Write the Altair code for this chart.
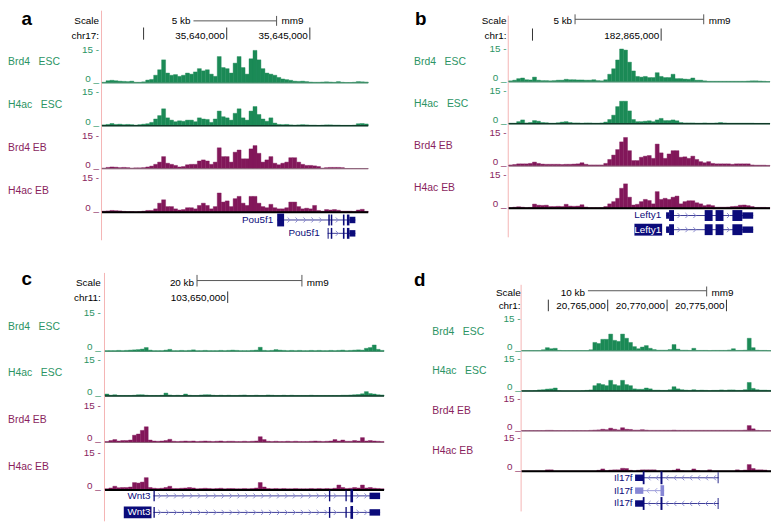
import altair as alt
import pandas as pd

# ---------------------------------------------------------------- data
track_labels = ["Brd4\u00a0\u00a0\u00a0ESC", "H4ac\u00a0\u00a0\u00a0ESC", "Brd4 EB", "H4ac EB"]

# panel a : chr17, Pou5f1 locus (read density, 0-15)
a_brd4_esc = [0.3, 1.0, 1.2, 1.0, 0.8, 0.7, 0.6, 0.8, 0.3, 0.3,
              0.5, 1.3, 1.6, 3.5, 6.0, 10.5, 4.5, 3.5, 3.8, 3.0,
              3.5, 4.5, 4.0, 5.0, 6.5, 5.5, 6.0, 4.0, 3.0, 12.0,
              7.0, 6.5, 4.5, 9.0, 12.0, 7.0, 4.0, 11.0, 14.8, 10.5,
              6.5, 4.5, 4.0, 3.5, 2.5, 1.8, 1.5, 1.2, 0.8, 0.7,
              0.8, 0.6, 0.4, 0.3, 0.3, 0.4, 0.5, 0.4, 0.3, 0.6,
              0.3, 0.2, 0.2, 0.3, 0.6, 0.5, 0.4]
a_h4ac_esc = [0.4, 0.6, 1.0, 0.6, 0.7, 0.5, 0.6, 0.5, 0.3, 0.5,
              0.7, 0.9, 1.5, 3.0, 4.5, 7.5, 3.5, 2.5, 1.8, 2.2,
              2.0, 2.5, 2.5, 1.8, 3.5, 3.0, 2.8, 1.5, 3.0, 6.5,
              4.0, 3.5, 2.5, 5.5, 7.5, 3.5, 2.5, 6.5, 8.5, 5.0,
              3.0, 2.0, 3.5, 1.2, 0.6, 0.5, 0.6, 0.4, 0.3, 0.4,
              0.5, 0.4, 0.3, 0.3, 0.2, 0.3, 0.4, 0.4, 0.3, 0.3,
              0.2, 0.2, 0.2, 0.3, 0.9, 1.0, 0.8]
a_brd4_eb = [0.3, 0.6, 0.8, 0.7, 0.5, 0.6, 0.5, 0.3, 0.4, 0.4,
             0.5, 0.8, 1.2, 2.0, 3.0, 5.5, 2.5, 2.0, 1.5, 0.8,
             1.0, 1.8, 2.0, 2.0, 3.5, 4.0, 3.5, 2.0, 3.0, 9.5,
             5.5, 5.5, 3.0, 7.5, 8.5, 4.5, 4.5, 9.0, 10.5, 7.0,
             3.0, 4.0, 5.5, 2.5, 1.8, 2.5, 3.0, 5.0, 5.0, 3.0,
             2.0, 1.5, 1.5, 1.3, 1.0, 0.3, 0.5, 0.6, 0.6, 0.6,
             0.5, 0.1, 0.1, 0.1, 0.1, 0.1, 0.1]
a_h4ac_eb = [0.5, 0.6, 0.8, 0.7, 0.6, 0.4, 0.3, 0.3, 0.2, 0.3,
             0.5, 0.8, 0.8, 1.5, 4.0, 5.5, 2.5, 2.5, 1.5, 1.0,
             1.2, 2.0, 2.0, 1.5, 3.0, 4.0, 3.0, 1.5, 2.5, 8.5,
             4.5, 5.0, 2.5, 6.0, 7.0, 4.0, 3.0, 7.0, 7.0, 4.0,
             2.5, 2.0, 3.5, 2.0, 1.5, 1.5, 2.0, 4.5, 4.5, 2.5,
             1.5, 1.8, 1.5, 3.0, 0.8, 0.5, 1.2, 1.0, 1.2, 0.9,
             0.5, 0.5, 0.5, 0.4, 1.0, 1.3, 0.4]

# panel b : chr1, Lefty1 locus
b_brd4_esc = [0.5, 0.8, 1.5, 1.8, 1.0, 0.9, 2.2, 0.8, 0.6, 0.6,
              0.5, 0.6, 0.8, 0.8, 1.2, 1.0, 1.0, 0.9, 0.9, 0.8,
              0.8, 1.0, 0.6, 0.5, 1.0, 3.5, 6.0, 10.0, 15.0, 14.5,
              9.0, 5.0, 2.5, 2.2, 2.5, 2.0, 2.0, 4.2, 2.5, 2.0,
              2.0, 3.5, 1.5, 1.5, 1.3, 1.2, 1.8, 0.8, 0.8, 0.5,
              0.3, 0.3, 0.3, 0.3, 0.3, 0.3, 0.3, 0.3, 0.3, 0.3,
              0.4, 0.5, 0.5, 0.4, 0.3, 0.2]
b_h4ac_esc = [0.3, 0.3, 1.0, 1.8, 0.4, 0.6, 1.5, 1.2, 0.6, 0.5,
              0.3, 0.3, 0.5, 0.8, 1.0, 0.6, 0.4, 0.4, 0.3, 0.4,
              0.4, 0.3, 0.3, 0.4, 0.8, 2.0, 4.0, 8.0, 10.5, 10.5,
              6.0, 2.0, 1.0, 1.0, 1.2, 1.4, 1.0, 1.8, 2.5, 1.5,
              1.5, 1.8, 1.4, 0.6, 0.4, 0.4, 0.4, 0.3, 0.3, 0.4,
              0.3, 0.3, 0.4, 0.6, 0.4, 0.3, 0.3, 0.3, 0.3, 0.3,
              0.3, 0.3, 0.2, 0.2, 0.2, 0.2]
b_brd4_eb = [0.5, 0.7, 1.0, 1.0, 1.0, 1.2, 1.8, 1.2, 0.9, 0.8,
             0.8, 0.8, 0.8, 0.7, 0.8, 0.8, 0.9, 1.0, 1.5, 0.8,
             0.5, 0.5, 0.5, 0.5, 1.2, 3.0, 5.0, 7.5, 11.0, 13.0,
             7.0, 2.5, 2.5, 4.0, 4.5, 4.8, 3.5, 10.0, 6.0, 3.5,
             5.5, 7.0, 7.0, 4.0, 4.2, 3.5, 4.5, 3.0, 2.0, 1.5,
             2.0, 1.2, 1.0, 1.0, 1.0, 1.0, 0.8, 1.0, 1.0, 1.0,
             1.0, 0.5, 0.4, 0.4, 0.4, 0.3]
b_h4ac_eb = [0.3, 0.5, 0.7, 0.5, 0.3, 0.4, 1.9, 1.4, 1.3, 1.4,
             0.8, 0.8, 0.9, 0.8, 1.8, 1.0, 0.9, 1.0, 1.6, 0.6,
             0.3, 0.3, 0.3, 0.3, 0.8, 2.0, 3.0, 4.5, 9.0, 11.0,
             5.0, 1.5, 1.8, 3.0, 4.0, 3.5, 2.0, 7.5, 4.0, 4.5,
             4.0, 5.0, 5.5, 2.0, 3.0, 3.4, 3.4, 2.5, 2.0, 1.2,
             1.6, 1.2, 0.5, 0.5, 0.5, 0.6, 0.8, 0.9, 1.4, 1.5,
             1.2, 0.8, 0.4, 0.4, 0.4, 0.3]

# panel c : chr11, Wnt3 locus
c_brd4_esc = [0.3, 0.3, 0.3, 0.4, 0.3, 0.4, 0.5, 0.6, 0.7, 0.9,
              1.5, 0.5, 0.3, 0.3, 0.3, 0.5, 0.8, 0.3, 0.3, 0.4,
              0.3, 0.4, 0.6, 0.3, 0.3, 0.4, 0.3, 0.3, 0.3, 0.4,
              0.3, 0.4, 0.5, 0.4, 0.3, 0.3, 0.3, 0.4, 0.5, 1.6,
              0.4, 0.3, 0.4, 0.7, 0.5, 0.4, 0.3, 0.4, 0.3, 0.4,
              0.3, 0.3, 0.4, 0.3, 0.4, 0.3, 0.3, 0.4, 0.3, 0.4,
              0.5, 0.3, 0.4, 0.5, 0.6, 0.5, 1.2, 1.5, 2.5, 0.8,
              0.4]
c_h4ac_esc = [0.8, 0.3, 0.5, 0.2, 0.2, 0.2, 0.2, 0.3, 0.5, 0.5,
              0.3, 0.2, 0.2, 0.2, 0.3, 1.2, 0.4, 0.2, 0.3, 0.2,
              0.8, 0.3, 0.2, 0.2, 0.4, 0.5, 0.5, 0.3, 0.2, 0.3,
              0.2, 0.3, 0.2, 0.2, 0.3, 0.4, 0.2, 0.2, 0.3, 0.2,
              0.2, 0.4, 0.3, 0.2, 0.2, 0.3, 0.2, 0.3, 0.2, 0.2,
              0.2, 0.2, 0.3, 0.2, 0.2, 0.2, 0.2, 0.2, 0.2, 0.2,
              0.3, 0.3, 0.4, 0.5, 0.6, 0.9, 1.8, 1.0, 0.8, 0.5,
              0.4]
c_brd4_eb = [0.4, 0.8, 1.2, 0.6, 0.8, 0.8, 1.0, 3.0, 3.5, 5.0,
             6.5, 1.0, 0.6, 0.5, 0.6, 0.8, 1.3, 0.5, 0.4, 0.5,
             0.6, 0.5, 0.6, 0.4, 0.5, 0.6, 0.5, 0.4, 0.5, 0.6,
             0.4, 0.5, 0.5, 0.4, 0.4, 0.5, 0.4, 0.5, 0.6, 2.4,
             1.2, 0.5, 0.4, 0.5, 0.4, 0.4, 0.5, 0.4, 0.5, 0.4,
             0.4, 0.4, 0.5, 0.6, 0.5, 0.4, 0.5, 0.6, 1.2, 0.6,
             1.0, 0.5, 0.5, 0.8, 0.6, 2.0, 0.6, 0.8, 0.6, 0.5,
             0.4]
c_h4ac_eb = [0.5, 0.8, 1.5, 0.9, 1.0, 1.0, 1.2, 3.0, 2.8, 3.2,
             5.0, 1.0, 0.7, 0.6, 0.7, 1.0, 1.5, 0.6, 0.6, 0.7,
             0.8, 1.0, 0.8, 0.5, 0.6, 0.7, 0.6, 0.5, 0.6, 0.7,
             0.5, 0.6, 0.6, 0.5, 0.5, 0.6, 0.5, 0.6, 0.8, 3.0,
             1.2, 0.6, 0.5, 0.6, 0.5, 0.6, 0.5, 0.5, 0.6, 0.5,
             0.5, 0.5, 0.6, 0.5, 0.6, 0.5, 0.6, 0.5, 0.7, 2.0,
             1.0, 0.6, 0.7, 1.0, 0.8, 2.0, 0.8, 1.0, 0.7, 0.6,
             0.5]

# panel d : chr1, Il17f locus
d_brd4_esc = [0.1, 0.1, 0.1, 0.1, 0.1, 0.5, 1.5, 1.0, 1.2, 0.2,
              0.1, 0.1, 0.1, 0.1, 0.1, 0.1, 0.1, 0.5, 4.0, 3.5,
              5.5, 5.5, 8.0, 5.0, 4.5, 8.0, 6.0, 4.0, 2.0, 1.0,
              1.8, 2.5, 1.2, 0.6, 0.3, 0.3, 0.3, 0.6, 3.0, 0.8,
              0.3, 0.3, 0.2, 1.2, 0.2, 0.2, 0.2, 0.1, 0.2, 0.2,
              0.2, 0.2, 0.4, 1.0, 0.2, 0.2, 0.3, 6.0, 1.5, 0.3,
              0.2, 0.2, 0.1]
d_h4ac_esc = [0.1, 0.1, 0.1, 0.2, 0.5, 0.6, 0.9, 1.0, 1.4, 0.1,
              0.0, 0.0, 0.0, 0.0, 0.0, 0.1, 0.3, 0.5, 2.5, 3.5,
              3.0, 2.5, 5.0, 3.0, 2.5, 5.0, 3.0, 2.5, 1.0, 0.8,
              0.8, 1.4, 1.0, 0.4, 0.4, 0.3, 0.3, 0.6, 2.0, 1.0,
              0.6, 0.4, 0.3, 0.6, 0.3, 0.4, 0.3, 0.2, 0.3, 0.3,
              0.5, 0.3, 0.5, 0.5, 0.3, 0.3, 0.6, 4.0, 1.2, 0.6,
              0.4, 0.4, 0.3]
d_brd4_eb = [0.2, 0.2, 0.2, 0.2, 0.2, 0.2, 0.3, 0.3, 0.2, 0.2,
             0.2, 0.2, 0.2, 0.2, 0.2, 0.2, 0.2, 0.3, 0.4, 0.5,
             0.8, 0.6, 1.3, 0.8, 0.5, 1.5, 0.8, 0.7, 0.4, 0.4,
             0.6, 0.4, 0.3, 0.3, 0.3, 0.3, 0.3, 0.3, 0.4, 0.3,
             0.3, 0.3, 0.3, 0.3, 0.3, 0.3, 0.3, 0.3, 0.3, 0.3,
             0.3, 0.3, 0.3, 0.3, 0.3, 0.3, 0.4, 2.5, 1.0, 0.3,
             0.2, 0.2, 0.2]
d_h4ac_eb = [0.0, 0.0, 0.0, 0.0, 0.0, 0.0, 0.6, 0.6, 0.0, 0.0,
             0.0, 0.0, 0.0, 0.0, 0.0, 0.0, 0.0, 0.0, 0.0, 0.4,
             1.0, 0.2, 0.5, 0.6, 0.6, 1.3, 1.2, 0.4, 0.0, 0.4,
             0.6, 0.6, 0.6, 0.6, 0.0, 0.0, 0.0, 0.0, 0.4, 1.0,
             0.2, 0.0, 0.0, 1.0, 0.3, 0.0, 0.0, 0.6, 0.0, 0.0,
             0.0, 0.0, 0.0, 0.0, 0.6, 0.2, 0.5, 3.0, 1.2, 0.6,
             0.6, 0.5, 0.0]

# gene models (genomic coordinates, mm9)
gene_a = dict(name="Pou5f1", strand=">", rows=[
    dict(span=(35643036, 35647738), exons=[(35643036, 35643452, "tall"), (35646110, 35646200, "cds"),
                                         (35646260, 35646350, "cds"), (35646990, 35647085, "cds"),
                                         (35647230, 35647381, "cds"), (35647381, 35647738, "utr")]),
    dict(span=(35646071, 35647738), exons=[(35646071, 35646130, "cds"), (35646260, 35646350, "cds"),
                                         (35646990, 35647085, "cds"), (35647230, 35647381, "cds"),
                                         (35647381, 35647738, "utr")]),
])
lefty1_exons = [(182865192, 182865308, "utr"), (182865308, 182865500, "cds"), (182866692, 182867000, "cds"),
                (182867115, 182867423, "cds"), (182867769, 182868154, "cds"), (182868154, 182868577, "utr")]
gene_b = dict(name="Lefty1", strand=">", rows=[
    dict(span=(182865192, 182868577), exons=lefty1_exons),
    dict(span=(182865192, 182868577), exons=lefty1_exons, highlight=True),
])
wnt3_exons = [(103635849, 103636100, "cds"), (103669300, 103669560, "cds"), (103672450, 103672700, "cds"),
              (103673396, 103673900, "tall"), (103677038, 103679057, "utr")]
gene_c = dict(name="Wnt3", strand=">", rows=[
    dict(span=(103635849, 103679057), exons=wnt3_exons),
    dict(span=(103635849, 103679057), exons=wnt3_exons, highlight=True),
])
il17f_long = [(20767306, 20768000, "utr"), (20767950, 20768100, "tall"), (20769444, 20769611, "tall"),
              (20774260, 20774333, "cds")]
gene_d = dict(name="Il17f", strand="<", rows=[
    dict(span=(20767306, 20774333), exons=il17f_long),
    dict(span=(20767306, 20769750), exons=[(20767306, 20768000, "utr"), (20769444, 20769750, "cds")], light=True),
    dict(span=(20767306, 20774333), exons=il17f_long),
])

PANELS = {
    "a": dict(letter="a", chrom="chr17:", assembly="mm9", g0=35632500, g1=35648512,
              sbar=(35638000, 35643000), sbar_label="5 kb", sbar_left_tick=False,
              ticks=[35635000, 35640000, 35645000], tick_labels=["", "35,640,000", "35,645,000"],
              tracks=[a_brd4_esc, a_h4ac_esc, a_brd4_eb, a_h4ac_eb], gene=gene_a),
    "b": dict(letter="b", chrom="chr1:", assembly="mm9", g0=182859077, g1=182869231,
              sbar=(182861654, 182866654), sbar_label="5 kb", sbar_left_tick=True,
              ticks=[182860000, 182865000], tick_labels=["", "182,865,000"],
              tracks=[b_brd4_esc, b_h4ac_esc, b_brd4_eb, b_h4ac_eb], gene=gene_b),
    "c": dict(letter="c", chrom="chr11:", assembly="mm9", g0=103626604, g1=103679811,
              sbar=(103644151, 103664151), sbar_label="20 kb", sbar_left_tick=True,
              ticks=[103650000], tick_labels=["103,650,000"],
              tracks=[c_brd4_esc, c_h4ac_esc, c_brd4_eb, c_h4ac_eb], gene=gene_c),
    "d": dict(letter="d", chrom="chr1:", assembly="mm9", g0=20757750, g1=20778750,
              sbar=(20763333, 20773333), sbar_label="10 kb", sbar_left_tick=False,
              ticks=[20760000, 20765000, 20770000, 20775000],
              tick_labels=["", "20,765,000", "20,770,000", "20,775,000"],
              tracks=[d_brd4_esc, d_h4ac_esc, d_brd4_eb, d_h4ac_eb], gene=gene_d),
}

# ---------------------------------------------------------------- layout / style
DX, DY = -8, -8          # page margin compensation
FONT = "Liberation Sans"
GREEN_FILL, GREEN_TEXT = "#1b8a56", "#2b9464"
PURPLE_FILL, PURPLE_TEXT = "#82175a", "#8a1f5e"
GENE, GENE_LIGHT = "#0b0b7a", "#8686d4"
LINE, LINE_LIGHT = "#3c3c96", "#9a9ad8"
CHEV, CHEV_LIGHT = "#8c8cd0", "#a8a8e0"
PINK = "#f4b4b4"
BAR_COLOR = "#555555"
BASE_COLORS = ["#4f8f70", "#103a28", "#8a6a7a", "#000000"]
BASE_W = [1, 1.5, 1, 2]
EXON_H = {"utr": 6.5, "cds": 11, "tall": 13}
CHEV_PX = 8

LAYOUT = {
    "a": dict(x0=103, x1=372, base=[81.0, 124.3, 167.7, 211.7], top=[47.7, 90.0, 134.3, 177.3],
              label_x=8, label_v=9.3, tick_x=100, head_x=100, scale_y=18.3, sbar_y=18.3, chr_y=33.3,
              sbar_tick=(13.3, 23.3), chr_tick=(25, 37.3), pink_y=(0, 240), letter=(27, 22),
              gene_rows=[219.5, 233.0], gene_dx=[-4, -8]),
    "b": dict(x0=514, x1=778, base=[80.0, 122.3, 165.0, 207.7], top=[46.7, 89.7, 131.7, 174.0],
              label_x=418.3, label_v=9.1, tick_x=511.7, head_x=511.7, scale_y=18.3, sbar_y=16.7, chr_y=33.3,
              sbar_tick=(11.7, 21.7), chr_tick=(26, 38.3), pink_y=(13, 237), letter=(425, 22),
              gene_rows=[215.0, 229.3], gene_dx=[-5, -5]),
    "c": dict(x0=106, x1=388, base=[352.3, 397.3, 444.3, 492.3], top=[313.3, 361.0, 407.7, 455.0],
              label_x=8, label_v=9.4, tick_x=101.7, head_x=101.7, scale_y=283.3, sbar_y=280.7, chr_y=298.3,
              sbar_tick=(275, 286.7), chr_tick=(291.7, 303.3), pink_y=(273, 524), letter=(27, 285),
              gene_rows=[498.3, 515.0], gene_dx=[-3, -3]),
    "d": dict(x0=527, x1=779, base=[351.7, 392.3, 432.7, 473.3], top=[320.0, 360.0, 400.0, 440.0],
              label_x=436.7, label_v=9.2, tick_x=526, head_x=526, scale_y=293.3, sbar_y=291, chr_y=306.7,
              sbar_tick=(286.7, 296.7), chr_tick=(300, 311.7), pink_y=(285, 514), letter=(424, 286),
              gene_rows=[480.0, 493.3, 506.0], gene_dx=[-2.5, -2.5, -2.5]),
}


def X(x):
    return x + DX


def Y(y):
    return max(y + DY, 0)


def xscale(p):
    P, L = PANELS[p], LAYOUT[p]
    return alt.Scale(domain=[P["g0"], P["g1"]], range=[X(L["x0"]), X(L["x1"])], nice=False, zero=False)


def txt(**kw):
    base = dict(font=FONT, fontSize=10, color="black")
    base.update(kw)
    return base


def track_layer(p, k):
    P, L = PANELS[p], LAYOUT[p]
    vals = P["tracks"][k]
    n = len(vals)
    w = (P["g1"] - P["g0"]) / n
    df = pd.DataFrame({"s": [P["g0"] + i * w for i in range(n)],
                       "e": [P["g0"] + (i + 1) * w for i in range(n)],
                       "v": vals})
    df["z"] = 0.0
    ys = alt.Scale(domain=[0, 15], range=[Y(L["base"][k]), Y(L["top"][k])], nice=False, zero=False)
    xenc = alt.X("s:Q", scale=xscale(p), axis=None)
    yenc = alt.Y("v:Q", scale=ys, axis=None)
    fill = GREEN_FILL if k < 2 else PURPLE_FILL
    tcol = GREEN_TEXT if k < 2 else PURPLE_TEXT
    bars = alt.Chart(df).mark_rect(color=fill, stroke=fill, strokeWidth=0.4).encode(
        x=xenc, x2="e:Q", y=yenc, y2="z:Q")
    base = alt.Chart(pd.DataFrame({"s": [P["g0"]], "e": [P["g1"]], "v": [0.0]})).mark_rule(
        color=BASE_COLORS[k], strokeWidth=BASE_W[k]).encode(x=xenc, x2="e:Q", y=yenc)
    t15 = alt.Chart(pd.DataFrame({"v": [15.0], "t": ["15 -"]})).mark_text(
        **txt(align="right", baseline="middle", color=tcol)).encode(
        x=alt.value(X(L["tick_x"])), y=yenc, text="t:N")
    t0 = alt.Chart(pd.DataFrame({"v": [0.0], "t": ["0 _"]})).mark_text(
        **txt(align="right", baseline="alphabetic", dy=-1, color=tcol)).encode(
        x=alt.value(X(L["tick_x"])), y=yenc, text="t:N")
    lab = alt.Chart(pd.DataFrame({"v": [L["label_v"]], "t": [track_labels[k]]})).mark_text(
        **txt(align="left", baseline="middle", fontSize=10.5, color=tcol)).encode(
        x=alt.value(max(X(L["label_x"]), 0)), y=yenc, text="t:N")
    return alt.layer(bars, base, t15, t0, lab)


def header_layer(p):
    P, L = PANELS[p], LAYOUT[p]
    xs = xscale(p)

    def xe(f):
        return alt.X(f"{f}:Q", scale=xs, axis=None)

    s0, s1 = P["sbar"]
    bar = alt.Chart(pd.DataFrame({"g": [s0], "g2": [s1]})).mark_rule(color=BAR_COLOR).encode(
        x=xe("g"), x2="g2:Q", y=alt.value(Y(L["sbar_y"])))
    tpos = [s0, s1] if P["sbar_left_tick"] else [s1]
    bticks = alt.Chart(pd.DataFrame({"g": tpos})).mark_rule(color=BAR_COLOR).encode(
        x=xe("g"), y=alt.value(Y(L["sbar_tick"][0])), y2=alt.value(Y(L["sbar_tick"][1])))
    blab = alt.Chart(pd.DataFrame({"g": [s0], "t": [P["sbar_label"]]})).mark_text(
        **txt(align="right", baseline="middle", dx=-3)).encode(
        x=xe("g"), y=alt.value(Y(L["scale_y"])), text="t:N")
    asm = alt.Chart(pd.DataFrame({"g": [s1], "t": [P["assembly"]]})).mark_text(
        **txt(align="left", baseline="middle", dx=5)).encode(
        x=xe("g"), y=alt.value(Y(L["scale_y"])), text="t:N")
    cticks = alt.Chart(pd.DataFrame({"g": P["ticks"]})).mark_rule(color="#333333").encode(
        x=xe("g"), y=alt.value(Y(L["chr_tick"][0])), y2=alt.value(Y(L["chr_tick"][1])))
    lab_df = pd.DataFrame({"g": P["ticks"], "t": P["tick_labels"]})
    lab_df = lab_df[lab_df["t"] != ""]
    clab = alt.Chart(lab_df).mark_text(**txt(align="right", baseline="middle", dx=-2)).encode(
        x=xe("g"), y=alt.value(Y(L["chr_y"])), text="t:N")
    pink = alt.Chart(pd.DataFrame({"g": [P["g0"]]})).mark_rule(color=PINK, xOffset=-0.5).encode(
        x=xe("g"), y=alt.value(Y(L["pink_y"][0])), y2=alt.value(Y(L["pink_y"][1])))
    return alt.layer(pink, bar, bticks, blab, asm, cticks, clab)


def static_layer(p):
    P, L = PANELS[p], LAYOUT[p]
    one = pd.DataFrame({"t": [P["letter"]]})
    letter = alt.Chart(one).mark_text(
        **txt(align="center", baseline="alphabetic", fontSize=19, fontWeight="bold")).encode(
        x=alt.value(X(L["letter"][0])), y=alt.value(Y(L["letter"][1])), text="t:N")
    heads = alt.Chart(pd.DataFrame({"t": ["Scale"]})).mark_text(
        **txt(align="right", baseline="middle")).encode(
        x=alt.value(X(L["head_x"])), y=alt.value(Y(L["scale_y"])), text="t:N")
    chrom = alt.Chart(pd.DataFrame({"t": [P["chrom"]]})).mark_text(
        **txt(align="right", baseline="middle")).encode(
        x=alt.value(X(L["head_x"])), y=alt.value(Y(L["chr_y"])), text="t:N")
    return alt.layer(letter, heads, chrom)


def gene_layer(p):
    P, L = PANELS[p], LAYOUT[p]
    G = P["gene"]
    rows = G["rows"]
    n = len(rows)
    ys = alt.Scale(domain=[0, n - 1], range=[Y(L["gene_rows"][0]), Y(L["gene_rows"][-1])],
                   nice=False, zero=False)
    xs = xscale(p)
    bpp = (P["g1"] - P["g0"]) / (L["x1"] - L["x0"])
    lines, chevs, exons, labels, boxes = [], [], [], [], []
    for i, r in enumerate(rows):
        light = r.get("light", False)
        lines.append({"s": r["span"][0], "e": r["span"][1], "r": i, "c": LINE_LIGHT if light else LINE})
        ivs = sorted([a, b] for a, b, _ in r["exons"])
        merged = []
        for a, b in ivs:
            if merged and a <= merged[-1][1]:
                merged[-1][1] = max(merged[-1][1], b)
            else:
                merged.append([a, b])
        step = CHEV_PX * bpp
        for (a0, b0), (a1, b1) in zip(merged, merged[1:]):
            g = b0 + step * 0.6
            while g < a1 - step * 0.35:
                chevs.append({"g": g, "r": i, "c": CHEV_LIGHT if light else CHEV})
                g += step
        for a, b, kind in r["exons"]:
            exons.append({"s": a, "e": b, "r": i, "k": kind, "c": GENE_LIGHT if light else GENE})
        anchor = r["span"][0] + L["gene_dx"][i] * bpp
        hl = r.get("highlight", False)
        labels.append({"g": anchor, "r": i, "t": G["name"], "c": "white" if hl else GENE})
        if hl:
            boxes.append({"g": anchor, "r": i})
    xe = lambda f: alt.X(f"{f}:Q", scale=xs, axis=None)
    ye = alt.Y("r:Q", scale=ys, axis=None)
    col = alt.Color("c:N", scale=None)
    layers = [alt.Chart(pd.DataFrame(lines)).mark_rule(strokeWidth=1).encode(
        x=xe("s"), x2="e:Q", y=ye, color=col)]
    path = "M-0.5,-1L0.5,0L-0.5,1" if G["strand"] == ">" else "M0.5,-1L-0.5,0L0.5,1"
    if chevs:
        layers.append(alt.Chart(pd.DataFrame(chevs)).mark_point(
            shape=path, size=26, filled=False, strokeWidth=1, opacity=1).encode(
            x=xe("g"), y=ye, color=col))
    exdf = pd.DataFrame(exons)
    for kind, h in EXON_H.items():
        sub = exdf[exdf["k"] == kind]
        if len(sub):
            layers.append(alt.Chart(sub).mark_rect(yOffset=-h / 2, y2Offset=h / 2, strokeWidth=0).encode(
                x=xe("s"), x2="e:Q", y=ye, y2="r:Q", color=col))
    if boxes:
        layers.append(alt.Chart(pd.DataFrame(boxes)).mark_rect(
            color=GENE, xOffset=-27, x2Offset=1, yOffset=-6, y2Offset=6).encode(
            x=xe("g"), x2="g:Q", y=ye, y2="r:Q"))
    layers.append(alt.Chart(pd.DataFrame(labels)).mark_text(
        **txt(align="right", baseline="middle")).encode(
        x=xe("g"), y=ye, text="t:N", color=col))
    return alt.layer(*layers)


layers = []
for p in "abcd":
    layers.append(header_layer(p))
    for k in range(4):
        layers.append(track_layer(p, k))
    layers.append(gene_layer(p))
    layers.append(static_layer(p))

chart = alt.layer(*layers).resolve_scale(x="independent", y="independent").properties(
    width=771, height=516, autosize="none", padding=0, background="white"
).configure_view(stroke=None)

chart.save("out.html", embed_options={"renderer": "svg", "actions": False})
